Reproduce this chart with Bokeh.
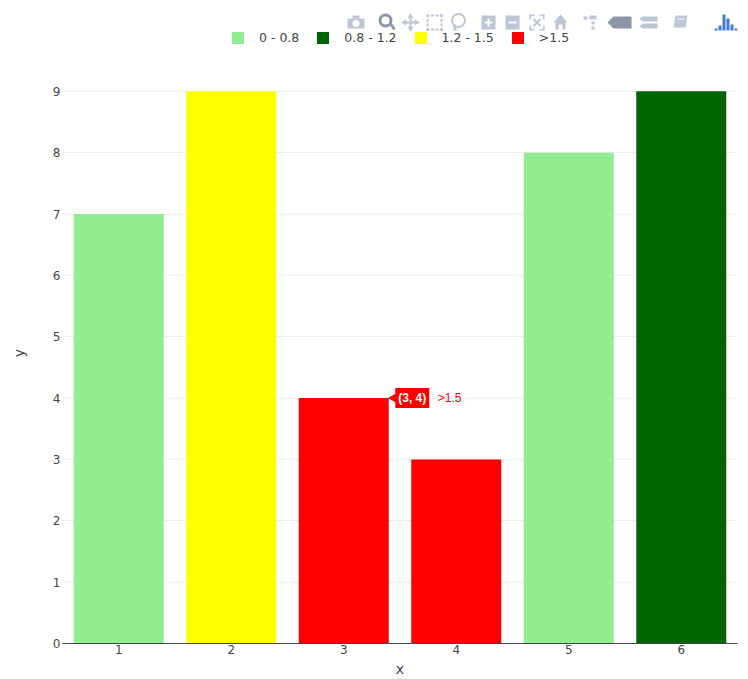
from math import pi
from bokeh.plotting import figure
from bokeh.layouts import column
from bokeh.models import Range1d, Legend, LegendItem, Label, FixedTicker, ColumnDataSource
from bokeh.embed import file_html
from bokeh.resources import INLINE

x_vals = [1, 2, 3, 4, 5, 6]
y_vals = [7, 9, 4, 3, 8, 9]
bins = ["0 - 0.8", "1.2 - 1.5", ">1.5", ">1.5", "0 - 0.8", "0.8 - 1.2"]
bin_names = ["0 - 0.8", "0.8 - 1.2", "1.2 - 1.5", ">1.5"]
bin_colors = ["#90EE90", "#006400", "#FFFF00", "#FF0000"]
hover_x, hover_y, hover_name = 3, 4, ">1.5"

FONT = "DejaVu Sans"
HOVER_FONT = "Liberation Sans"
W, H, HEAD = 748, 679, 62

# ---------- main chart ----------
p = figure(width=W, height=H - HEAD, output_backend="svg", toolbar_location=None,
           x_range=Range1d(0.5, 6.5), y_range=Range1d(0, 9.47),
           min_border_left=62, min_border_right=11, min_border_top=0, min_border_bottom=36,
           x_axis_label="x", y_axis_label="y")
p.outline_line_color = None
p.background_fill_color = "white"

for name, col in zip(bin_names, bin_colors):
    src = ColumnDataSource(dict(
        x=[a for a, b in zip(x_vals, bins) if b == name],
        top=[a for a, b in zip(y_vals, bins) if b == name]))
    p.vbar(x="x", top="top", bottom=0, width=0.8, source=src, fill_color=col, line_color=None)

p.xgrid.visible = False
p.ygrid.grid_line_color = "#eeeeee"
p.ygrid.ticker = FixedTicker(ticks=list(range(1, 10)))
p.yaxis.ticker = FixedTicker(ticks=list(range(0, 10)))
p.xaxis.ticker = FixedTicker(ticks=x_vals)
for ax in (p.xaxis[0], p.yaxis[0]):
    ax.major_tick_line_color = None
    ax.minor_tick_line_color = None
    ax.major_tick_out = 0
    ax.major_tick_in = 0
    ax.minor_tick_out = 0
    ax.major_label_text_font = FONT
    ax.major_label_text_font_size = "12px"
    ax.major_label_text_color = "#444444"
    ax.axis_label_text_font = FONT
    ax.axis_label_text_font_size = "14px"
    ax.axis_label_text_font_style = "normal"
    ax.axis_label_text_color = "#444444"
p.yaxis.axis_line_color = None
p.xaxis.axis_line_color = "#444444"
p.yaxis.major_label_standoff = 2
p.xaxis.major_label_standoff = 1
p.xaxis.axis_label_standoff = 4
p.yaxis.axis_label_standoff = 23

hover_color = bin_colors[bin_names.index(hover_name)]
p.scatter(x=[hover_x + 0.4 + 0.04], y=[hover_y], marker="triangle", size=9, angle=pi / 2,
          fill_color=hover_color, line_color=None)
p.add_layout(Label(x=hover_x + 0.4, y=hover_y, x_offset=6.5, text=f"({hover_x}, {hover_y})",
                   text_font=HOVER_FONT, text_font_size="12px", text_font_style="bold", text_color="white",
                   text_baseline="middle", background_fill_color=hover_color, padding=3))
p.add_layout(Label(x=hover_x + 0.4, y=hover_y, x_offset=49, text=hover_name,
                   text_font=HOVER_FONT, text_font_size="12px", text_color=hover_color, text_baseline="middle"))

# ---------- header strip: mode bar and legend (frame lines up with the chart's frame) ----------
h = figure(width=W, height=HEAD, output_backend="svg", toolbar_location=None,
           x_range=Range1d(62, 737), y_range=Range1d(HEAD, 0),
           min_border=0, x_axis_type=None, y_axis_type=None)
h.outline_line_color = None
h.grid.visible = False

def box(x0, x1, y0, y1, color):
    h.quad(left=[x0], right=[x1], top=[y0], bottom=[y1], fill_color=color, line_color=None)

def poly(pts, color):
    h.patch(x=[a for a, _ in pts], y=[b for _, b in pts], fill_color=color, line_color=None)

def ring(x, y, size, color, width=2.5):
    h.scatter(x=[x], y=[y], marker="circle", size=size, fill_color=None, line_color=color, line_width=width)

G = "#bcc6d6"
D = "#8b96a9"
# camera
box(347, 364, 18, 28, G); box(352, 359, 15, 18, G); h.scatter(x=[355.5], y=[23], marker="circle", size=7, fill_color="white", line_color=None)
# zoom
ring(385, 20, 11, D, 3); poly([(389, 24), (391, 22), (395, 28), (393, 30)], D)
# pan
box(409, 411, 16, 28, G); box(404, 416, 21, 23, G)
for px, py, ang in [(410, 16, 0), (410, 28, pi), (404, 22, pi / 2), (416, 22, -pi / 2)]:
    h.scatter(x=[px], y=[py], marker="triangle", size=6, angle=-ang if ang in (0, pi) else ang, fill_color=G, line_color=None)
# box select
for i in range(4):
    box(426 + i * 4.5, 429 + i * 4.5, 14, 16, G); box(426 + i * 4.5, 429 + i * 4.5, 28, 30, G)
    box(426, 428, 14 + i * 4.5, 17 + i * 4.5, G); box(440, 442, 14 + i * 4.5, 17 + i * 4.5, G)
# lasso
ring(458, 20, 13, G, 2); poly([(453, 24), (455, 24), (456, 30), (453, 30)], G)
# zoom in / out
box(481, 495, 15, 29, G); box(484, 492, 21, 23, "white"); box(487, 489, 18, 26, "white")
box(505, 519, 15, 29, G); box(508, 516, 21, 23, "white")
# autoscale: corners with a small cross
for cx, cy, sx, sy in [(529, 14, 1, 1), (544, 14, -1, 1), (529, 30, 1, -1), (544, 30, -1, -1)]:
    box(min(cx, cx + sx * 5), max(cx, cx + sx * 5), min(cy, cy + sy * 1.5), max(cy, cy + sy * 1.5), G)
    box(min(cx, cx + sx * 1.5), max(cx, cx + sx * 1.5), min(cy, cy + sy * 5), max(cy, cy + sy * 5), G)
h.scatter(x=[536.5], y=[22], marker="x", size=10, line_color=G, line_width=2)
# home
poly([(553, 22), (560, 14), (567, 22), (565, 22), (565, 29), (562, 29), (562, 24), (558, 24), (558, 29), (555, 29), (555, 22)], G)
# spikes
box(583, 587, 16, 19, G); box(589, 596, 15, 19, G); box(591, 594, 21, 24, G); box(591, 594, 26, 29, G)
# closest / compare
poly([(607, 22), (613, 16), (631, 16), (631, 28), (613, 28)], D)
poly([(639, 18), (642, 16), (657, 16), (657, 21), (642, 21)], G); poly([(639, 26), (642, 23), (657, 23), (657, 28), (642, 28)], G)
# book
poly([(675, 15), (687, 15), (685, 27), (673, 27)], G); box(677, 684, 18, 19, "white")
# logo bars
for x0, x1, y0 in [(714, 717, 28), (718, 721, 25), (722, 725, 14), (726, 729, 18), (730, 733, 24), (734, 737, 28)]:
    box(x0, x1, y0, 30, "#447adb")

items = []
for name, col in zip(bin_names, bin_colors):
    # off-range stand-in so the legend has a glyph to draw for this colour
    r = h.quad(left=[0], right=[1], top=[0], bottom=[1], fill_color=col, line_color=None)
    items.append(LegendItem(label=name, renderers=[r]))
leg = Legend(items=items, orientation="horizontal", location=(168, 17), border_line_color=None,
             background_fill_alpha=0, glyph_width=15, glyph_height=15, label_standoff=14, spacing=16,
             margin=0, padding=0, label_text_font=FONT, label_text_font_size="12.5px", label_text_color="#444444")
h.add_layout(leg, "center")

page = column(h, p, spacing=0)
open("out.html", "w").write(file_html(page, INLINE))
